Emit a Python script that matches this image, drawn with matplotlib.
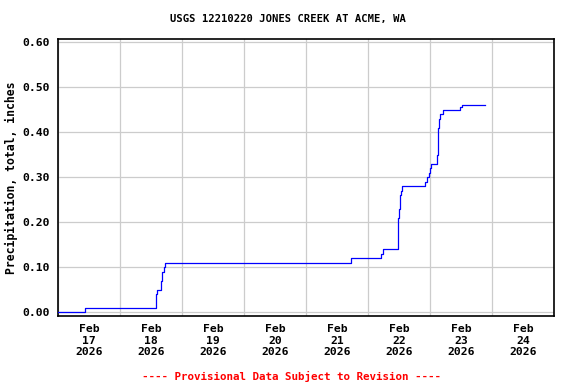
import matplotlib
matplotlib.use("Agg")
import matplotlib.pyplot as plt
import matplotlib.dates as mdates
import pandas as pd

# Step changes in cumulative precipitation (time, inches)
times = ["2026-02-17 00:00", "2026-02-17 10:20", "2026-02-18 13:55", "2026-02-18 14:25",
         "2026-02-18 15:55", "2026-02-18 16:25", "2026-02-18 16:55", "2026-02-18 17:30",
         "2026-02-21 17:30", "2026-02-22 05:10", "2026-02-22 05:50", "2026-02-22 11:30",
         "2026-02-22 11:40", "2026-02-22 12:05", "2026-02-22 12:30", "2026-02-22 12:55",
         "2026-02-22 13:20", "2026-02-22 21:55", "2026-02-22 22:20", "2026-02-22 22:40",
         "2026-02-22 23:05", "2026-02-22 23:30", "2026-02-22 23:55", "2026-02-23 00:20",
         "2026-02-23 02:50", "2026-02-23 03:10", "2026-02-23 03:35", "2026-02-23 04:00",
         "2026-02-23 04:30", "2026-02-23 04:55", "2026-02-23 11:40", "2026-02-23 12:20",
         "2026-02-23 21:15"]
values = [0.00, 0.01, 0.04, 0.05,
          0.07, 0.09, 0.10, 0.11,
          0.12, 0.13, 0.14, 0.15,
          0.21, 0.23, 0.26, 0.27,
          0.28, 0.29, 0.29, 0.30,
          0.30, 0.31, 0.32, 0.33,
          0.35, 0.41, 0.43, 0.44,
          0.44, 0.45, 0.455, 0.46,
          0.46]
y_ticks = [0.0, 0.1, 0.2, 0.3, 0.4, 0.5, 0.6]

t = pd.to_datetime(times)

fig = plt.figure(figsize=(5.76, 3.84), dpi=100)
ax = fig.add_axes([58 / 576, 68 / 384, 496 / 576, 277 / 384])

ax.step(t, values, where="post", color="#0000ff", linewidth=0.9, zorder=3)

ax.set_xlim(pd.Timestamp("2026-02-17"), pd.Timestamp("2026-02-25"))
ax.set_ylim(-0.008, 0.6067)

ax.xaxis.set_major_locator(mdates.DayLocator())
ax.xaxis.set_major_formatter(plt.NullFormatter())
ax.xaxis.set_minor_locator(mdates.HourLocator(byhour=[12]))
ax.xaxis.set_minor_formatter(mdates.DateFormatter("%b\n%d\n%Y"))
ax.set_yticks(y_ticks)
ax.set_yticklabels([f"{v:.2f}" for v in y_ticks])

ax.grid(True, which="major", color="#cccccc", linewidth=0.9)
ax.set_axisbelow(True)
ax.tick_params(which="both", length=0)
ax.tick_params(axis="x", which="minor", pad=6)
ax.tick_params(axis="y", pad=6)
for lab in ax.get_xticklabels(minor=True) + ax.get_yticklabels():
    lab.set_family("DejaVu Sans Mono")
    lab.set_weight("bold")
    lab.set_fontsize(8.2)
    lab.set_linespacing(1.15)
for s in ax.spines.values():
    s.set_linewidth(1.2)

ax.set_ylabel("Precipitation, total, inches", family="DejaVu Sans Mono",
              weight="bold", fontsize=8.3, labelpad=3)
fig.text(0.5, 1 - 19 / 384, "USGS 12210220 JONES CREEK AT ACME, WA", ha="center", va="center",
         family="DejaVu Sans Mono", weight="bold", fontsize=7.6)
fig.text(291 / 576, 1 - 376 / 384, "---- Provisional Data Subject to Revision ----",
         ha="center", va="center", family="DejaVu Sans Mono", weight="bold",
         fontsize=7.8, color="red")

fig.savefig("out.png", dpi=100)
